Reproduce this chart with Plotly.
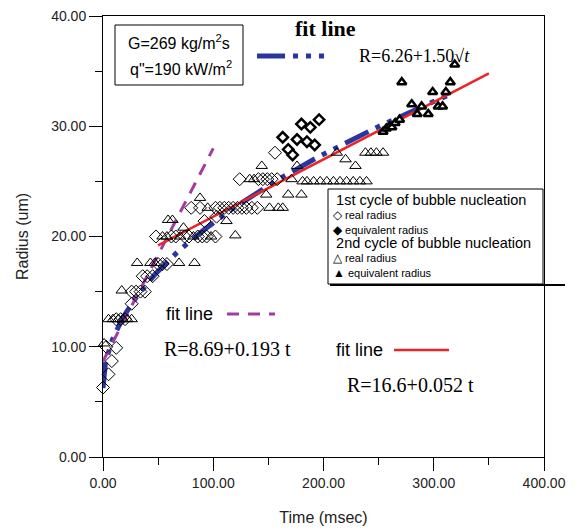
import numpy as np
import plotly.graph_objects as go

# ---- data ----
# 1st cycle, real radius (open diamonds)
c1_real_t = [0, 5, 8, 12, 3, 12, 16, 20, 26, 26, 30, 34, 38, 36, 40, 45, 50, 54, 58,
             48, 62, 66, 74, 78, 86, 90, 94, 102, 80, 88, 102, 106, 110, 114, 118, 122,
             126, 130, 135, 140, 92, 103, 124, 141, 145, 149, 153, 158, 156]
c1_real_r = [6.3, 7.5, 8.7, 9.9, 10.0, 12.5, 12.5, 12.5, 13.9, 15.0, 15.0, 15.0, 15.0,
             16.4, 16.4, 16.4, 17.5, 17.5, 17.5, 20.0, 20.0, 20.0, 20.0, 20.0, 20.0, 20.0,
             20.0, 20.0, 22.6, 22.6, 22.6, 22.6, 22.6, 22.6, 22.6, 22.6, 22.6, 22.6, 22.6,
             22.6, 21.4, 21.8, 25.2, 25.2, 25.2, 25.2, 25.2, 25.2, 27.6]
# 1st cycle, equivalent radius (bold diamonds)
c1_eq_t = [163, 168, 172, 176, 180, 185, 188, 192, 196]
c1_eq_r = [29.0, 27.9, 27.4, 28.8, 30.2, 28.6, 29.9, 28.3, 30.6]
# 2nd cycle, real radius (open triangles)
c2_real_t = [1, 5, 9, 14, 18, 22, 26, 17, 31, 43, 47, 69, 83, 54, 58, 70, 82, 98, 120,
             59, 63, 73, 88, 95, 112, 151, 159, 163, 133, 137, 171, 181, 144, 176, 148,
             168, 180, 185, 191, 197, 203, 209, 215, 221, 227, 233, 239, 238, 243, 248,
             254, 212, 220, 229]
c2_real_r = [10.3, 12.5, 12.5, 12.5, 12.5, 12.5, 12.5, 15.1, 17.6, 17.6, 17.6, 17.6, 17.6,
             20.0, 20.0, 20.0, 20.0, 20.0, 20.1, 21.5, 21.5, 20.8, 23.5, 22.6, 21.4, 22.6,
             22.6, 22.6, 25.2, 25.2, 25.2, 25.0, 26.4, 26.4, 23.8, 23.8, 23.8, 25.0, 25.0,
             25.0, 25.0, 25.0, 25.0, 25.0, 25.0, 25.0, 25.0, 27.6, 27.6, 27.6, 27.6, 27.6,
             27.0, 26.4]
# 2nd cycle, equivalent radius (bold triangles)
c2_eq_t = [254, 257, 260, 262, 265, 269, 271, 280, 285, 289, 295, 299, 304, 308, 311, 315, 319]
c2_eq_r = [29.5, 29.8, 30.0, 29.9, 30.3, 30.6, 34.0, 32.0, 31.1, 31.8, 31.1, 33.1, 31.8,
           31.8, 33.1, 34.0, 35.6]

# fit lines
sqrt_a, sqrt_b, sqrt_t = 6.26, 1.50, (0, 313)
lin1_a, lin1_b, lin1_t = 8.69, 0.193, (0, 100)
lin2_a, lin2_b, lin2_t = 16.6, 0.052, (50, 350)

x_ticks = [0, 100, 200, 300, 400]
y_ticks = [0, 10, 20, 30, 40]

BLUE = "#2B35A0"
MAG = "#A33BA3"
RED = "#E8262A"
SANS = "Liberation Sans, Arial, sans-serif"
SERIF = "Liberation Serif, Times New Roman, serif"

fig = go.Figure()

ts = np.linspace(sqrt_t[0], sqrt_t[1], 300)
fig.add_trace(go.Scatter(x=ts, y=sqrt_a + sqrt_b * np.sqrt(ts), mode="lines",
                         line=dict(color=BLUE, width=5, dash="26px,8px,5px,8px,5px,8px"),
                         hoverinfo="skip"))
t1 = np.array(lin1_t)
fig.add_trace(go.Scatter(x=t1, y=lin1_a + lin1_b * t1, mode="lines",
                         line=dict(color=MAG, width=3, dash="12px,9px"), hoverinfo="skip"))
t2 = np.array(lin2_t)
fig.add_trace(go.Scatter(x=t2, y=lin2_a + lin2_b * t2, mode="lines",
                         line=dict(color=RED, width=2.5), hoverinfo="skip"))

fig.add_trace(go.Scatter(x=c1_real_t, y=c1_real_r, mode="markers", cliponaxis=False,
                         marker=dict(symbol="diamond-open", size=10, color="black",
                                     line=dict(width=1))))
fig.add_trace(go.Scatter(x=c2_real_t, y=c2_real_r, mode="markers", cliponaxis=False,
                         marker=dict(symbol="triangle-up-open", size=10, color="black",
                                     line=dict(width=1))))
fig.add_trace(go.Scatter(x=c1_eq_t, y=c1_eq_r, mode="markers", cliponaxis=False,
                         marker=dict(symbol="diamond", size=8, color="white",
                                     line=dict(width=2.5, color="black"))))
fig.add_trace(go.Scatter(x=c2_eq_t, y=c2_eq_r, mode="markers", cliponaxis=False,
                         marker=dict(symbol="triangle-up", size=8, color="white",
                                     line=dict(width=2.5, color="black"))))

L, R_, T, B = 103, 544, 16, 457
W = R_ - L
H = B - T
def px(x):
    return (x - L) / W
def py(y):
    return (B - y) / H

ann = []
def txt(x, y, s, size, font=SANS, anchor="left", bold=False, yanchor="middle"):
    if bold:
        s = "<b>" + s + "</b>"
    ann.append(dict(x=px(x), y=py(y), xref="paper", yref="paper", text=s, showarrow=False,
                    xanchor=anchor, yanchor=yanchor, align="left",
                    font=dict(family=font, size=size, color="black")))

# top-left info box
txt(179, 42, "G=269 kg/m<sup>2</sup>s", 16, anchor="center")
txt(181, 68, "q\"=190 kW/m<sup>2</sup>", 16, anchor="center")
# blue fit label
txt(325, 28, "fit line", 22, font=SERIF, anchor="center", bold=True)
txt(357, 56, "R=6.26+1.50√<i>t</i>", 18, font=SERIF)
# magenta fit label
txt(164, 314, "fit line", 18)
txt(162, 349, "R=8.69+0.193 t", 20, font=SERIF)
# red fit label
txt(334, 350, "fit line", 18)
txt(345, 385, "R=16.6+0.052 t", 20, font=SERIF)
# legend box (one block)
H1 = "<span style='font-size:14.5px'>%s</span>"
G = "<span style='font-size:12px'>%s</span>"
legend_lines = [
    "&nbsp;" + H1 % "1st cycle of bubble nucleation",
    G % "◇" + " real radius",
    G % "◆" + " equivalent radius",
    "&nbsp;" + H1 % "2nd cycle of bubble nucleation",
    G % "△" + " real radius",
    G % "▲" + " equivalent radius",
]
txt(331, 236, "<br>".join(legend_lines), 11)

shapes = [
    dict(type="rect", xref="paper", yref="paper", x0=px(115), x1=px(243), y0=py(25), y1=py(85),
         line=dict(color="black", width=1)),
    dict(type="rect", xref="paper", yref="paper", x0=px(328), x1=px(543), y0=py(189), y1=py(284),
         line=dict(color="black", width=1)),
    dict(type="line", xref="paper", yref="paper", x0=px(330), x1=px(565), y0=py(285), y1=py(285),
         line=dict(color="black", width=2)),
    dict(type="line", xref="paper", yref="paper", x0=px(257), x1=px(330), y0=py(56), y1=py(56),
         line=dict(color=BLUE, width=5, dash="28px,8px,5px,8px,5px,8px,5px,8px")),
    dict(type="line", xref="paper", yref="paper", x0=px(227), x1=px(275), y0=py(314), y1=py(314),
         line=dict(color=MAG, width=3, dash="12px,9px")),
    dict(type="line", xref="paper", yref="paper", x0=px(394), x1=px(449), y0=py(350), y1=py(350),
         line=dict(color=RED, width=2.5)),
]

axis_common = dict(showline=True, linecolor="black", linewidth=1, mirror=True,
                   showgrid=False, zeroline=False, ticks="outside", ticklen=13,
                   tickcolor="black", tickfont=dict(family=SANS, size=14, color="#222"),
                   tickformat=".2f", automargin=False)
fig.update_layout(
    width=586, height=532, margin=dict(l=L, r=586 - R_, t=T, b=532 - B),
    paper_bgcolor="white", plot_bgcolor="white", showlegend=False,
    xaxis=dict(range=[0, 400], tickvals=x_ticks, **axis_common,
               minor=dict(dtick=50, ticklen=7, ticks="outside", tickcolor="black"),
               title=dict(text="Time (msec)", font=dict(family=SANS, size=16, color="#222"),
                          standoff=22)),
    yaxis=dict(range=[0, 40], tickvals=y_ticks, **axis_common,
               minor=dict(dtick=5, ticklen=7, ticks="outside", tickcolor="black"),
               title=dict(text="Radius (um)", font=dict(family=SANS, size=16, color="#222"),
                          standoff=18)),
    annotations=ann, shapes=shapes,
)
fig.write_html("out.html")
